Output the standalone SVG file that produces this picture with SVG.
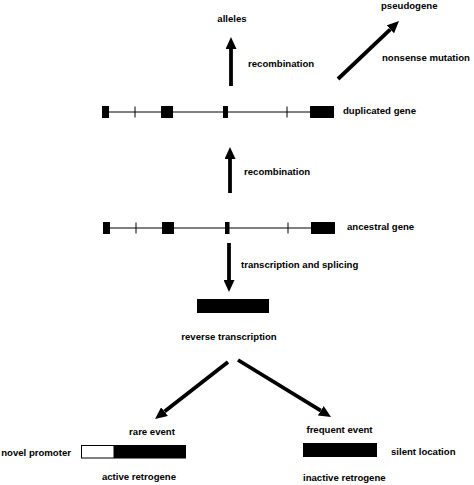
<svg xmlns="http://www.w3.org/2000/svg" width="474" height="485" viewBox="0 0 474 485">
<style>
text{font-family:"Liberation Sans",Arial,sans-serif;font-weight:bold;font-size:9.6px;fill:#000}
.ln{stroke:#000;stroke-width:1;fill:none}
.ar{stroke:#000;stroke-width:3.8;fill:none;marker-end:url(#ah)}
.ex{fill:#000}
</style>
<defs>
<marker id="ah" markerUnits="userSpaceOnUse" markerWidth="12" markerHeight="11" refX="0" refY="5.5" orient="auto" viewBox="0 0 12 11">
<path d="M0,0 L12,5.5 L0,11 z" fill="#000"/>
</marker>
</defs>
<rect width="474" height="485" fill="#fff"/>
<g id="connectors">
<line class="ar" x1="231" y1="86" x2="231" y2="49"/>
<line class="ar" x1="230" y1="193" x2="230" y2="159"/>
<line class="ar" x1="229" y1="243" x2="229" y2="280"/>
<line class="ar" x1="338" y1="79" x2="390.3" y2="29.3"/>
<line class="ar" x1="228" y1="362" x2="164.5" y2="411.6"/>
<line class="ar" x1="238" y1="360" x2="320.8" y2="410.7"/>
</g>
<g id="duplicated-gene">
<line class="ln" x1="102" y1="112" x2="334" y2="112"/>
<line class="ln" x1="135" y1="106.5" x2="135" y2="117.5"/>
<line class="ln" x1="287" y1="106.5" x2="287" y2="117.5"/>
<rect class="ex" x="102" y="106" width="7" height="12"/>
<rect class="ex" x="161" y="106" width="12" height="12"/>
<rect class="ex" x="223" y="106" width="5" height="12"/>
<rect class="ex" x="310" y="106" width="24" height="12"/>
<text x="343" y="114">duplicated gene</text>
</g>
<g id="ancestral-gene">
<line class="ln" x1="103" y1="228" x2="335" y2="228"/>
<line class="ln" x1="136" y1="222.5" x2="136" y2="233.5"/>
<line class="ln" x1="288" y1="222.5" x2="288" y2="233.5"/>
<rect class="ex" x="103" y="222" width="7" height="12"/>
<rect class="ex" x="162" y="222" width="12" height="12"/>
<rect class="ex" x="225" y="222" width="4.5" height="12"/>
<rect class="ex" x="311" y="222" width="24" height="12"/>
<text x="347" y="230">ancestral gene</text>
</g>
<g id="alleles"><text x="232" y="22" text-anchor="middle">alleles</text></g>
<g id="pseudogene"><text x="381" y="9">pseudogene</text></g>
<g id="labels">
<text x="248" y="67">recombination</text>
<text x="382" y="61">nonsense mutation</text>
<text x="244" y="175">recombination</text>
<text x="241" y="268">transcription and splicing</text>
<text x="229" y="340" text-anchor="middle">reverse transcription</text>
</g>
<g id="mrna"><rect class="ex" x="197" y="299" width="72" height="14"/></g>
<g id="active-retrogene">
<text x="152" y="435" text-anchor="middle">rare event</text>
<rect x="81.5" y="445.5" width="32.5" height="12.5" fill="#fff" stroke="#000" stroke-width="1"/>
<rect class="ex" x="114" y="445" width="72" height="13.5"/>
<text x="71" y="456" text-anchor="end">novel promoter</text>
<text x="139" y="480" text-anchor="middle">active retrogene</text>
</g>
<g id="inactive-retrogene">
<text x="339.5" y="433" text-anchor="middle">frequent event</text>
<rect class="ex" x="303" y="443" width="74" height="14"/>
<text x="391" y="455">silent location</text>
<text x="303" y="481">inactive retrogene</text>
</g>
</svg>
